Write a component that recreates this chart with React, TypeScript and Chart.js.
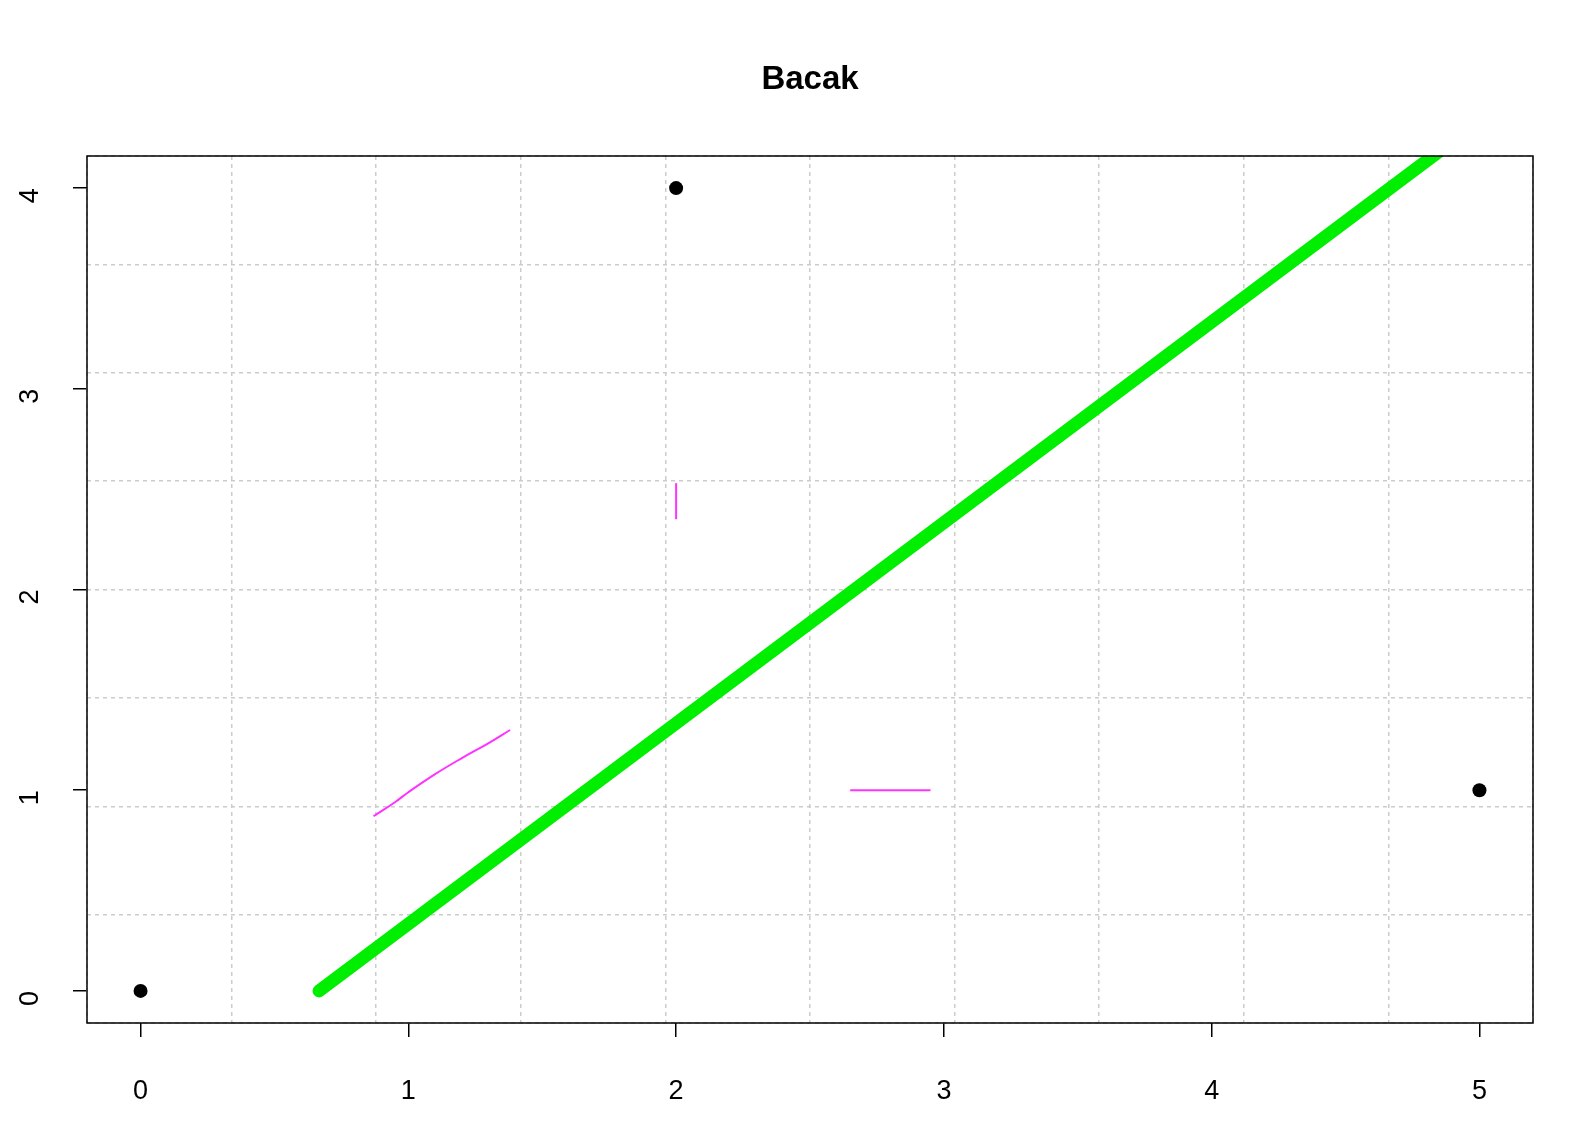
import { useEffect, useRef } from 'react';
import Chart from 'chart.js/auto';

const blackX = [0, 2, 5];
const blackY = [0, 4, 1];
const greenX = [2 / 3, 5.2];
const greenY = [0, 4.5333];
const curveX = [0.87, 0.95, 1.0, 1.1, 1.2, 1.3, 1.38];
const curveY = [0.87, 0.94, 0.99, 1.08, 1.16, 1.235, 1.3];
const vertX = [2, 2];
const vertY = [2.35, 2.53];
const horizX = [2.65, 2.95];
const horizY = [1, 1];
const xTicks = [0, 1, 2, 3, 4, 5];
const yTicks = [0, 1, 2, 3, 4];

const pts = (xs: number[], ys: number[]) => xs.map((x, i) => ({ x, y: ys[i] }));
const FONT = '"Liberation Sans", Arial, sans-serif';

const App = () => {
  const ref = useRef<HTMLCanvasElement>(null);
  useEffect(() => {
    document.body.style.margin = '0';
    if (!ref.current) return;
    const grid = { color: '#cccccc', lineWidth: 1.5, tickLength: 0, drawTicks: false };
    const chart = new Chart(ref.current, {
      type: 'scatter',
      data: {
        datasets: [
          { data: pts(greenX, greenY), showLine: true, borderColor: '#00ee00', borderWidth: 13, borderCapStyle: 'round', pointRadius: 0 } as any,
          { data: pts(curveX, curveY), showLine: true, tension: 0.4, borderColor: '#ff33ff', borderWidth: 2, pointRadius: 0 },
          { data: pts(vertX, vertY), showLine: true, borderColor: '#ff33ff', borderWidth: 2, pointRadius: 0 },
          { data: pts(horizX, horizY), showLine: true, borderColor: '#ff33ff', borderWidth: 2, pointRadius: 0 },
          { data: pts(blackX, blackY), pointRadius: 7, pointBackgroundColor: '#000', pointBorderWidth: 0 },
        ],
      },
      options: {
        animation: false,
        responsive: false,
        layout: { padding: { top: 156, right: 47, left: 0, bottom: 0 } },
        plugins: { legend: { display: false }, tooltip: { enabled: false } },
        scales: {
          x: {
            min: -0.2, max: 5.2,
            afterBuildTicks: (s: any) => { s.ticks = xTicks.map((v) => ({ value: v })); },
            afterFit: (s: any) => { s.height = 115; },
            grid: { display: true, drawOnChartArea: false, tickLength: 14, color: '#000', lineWidth: 1.5 },
            border: { display: false },
            ticks: { color: '#000', font: { family: FONT, size: 27 }, padding: 38, maxRotation: 0 },
          },
          y: {
            min: -0.16, max: 4.16,
            afterBuildTicks: (s: any) => { s.ticks = yTicks.map((v) => ({ value: v })); },
            afterFit: (s: any) => { s.width = 87; },
            grid: { display: true, drawOnChartArea: false, tickLength: 14, color: '#000', lineWidth: 1.5 },
            border: { display: false },
            ticks: { color: '#000', font: { family: FONT, size: 27 }, padding: 42, minRotation: 90, maxRotation: 90 },
          },
          xg: {
            type: 'linear', position: 'bottom', min: 0, max: 10,
            ticks: { display: false, stepSize: 1 },
            afterFit: (s: any) => { s.height = 0; },
            grid, border: { display: false, dash: [4, 4] },
          },
          yg: {
            type: 'linear', position: 'left', min: 0, max: 8,
            ticks: { display: false, stepSize: 1 },
            afterFit: (s: any) => { s.width = 0; },
            grid, border: { display: false, dash: [4, 4] },
          },
        } as any,
      },
      plugins: [
        {
          id: 'frame',
          afterDraw: (c: any) => {
            const { ctx, chartArea: a } = c;
            ctx.save();
            ctx.strokeStyle = '#000';
            ctx.lineWidth = 1.5;
            ctx.strokeRect(a.left, a.top, a.right - a.left, a.bottom - a.top);
            ctx.fillStyle = '#000';
            ctx.font = `bold 33px ${FONT}`;
            ctx.textAlign = 'center';
            ctx.textBaseline = 'middle';
            ctx.fillText('Bacak', (a.left + a.right) / 2, 80);
            ctx.restore();
          },
        },
      ],
    });
    return () => chart.destroy();
  }, []);
  return <canvas ref={ref} width={1580} height={1138} style={{ display: 'block' }} />;
};

export default App;
